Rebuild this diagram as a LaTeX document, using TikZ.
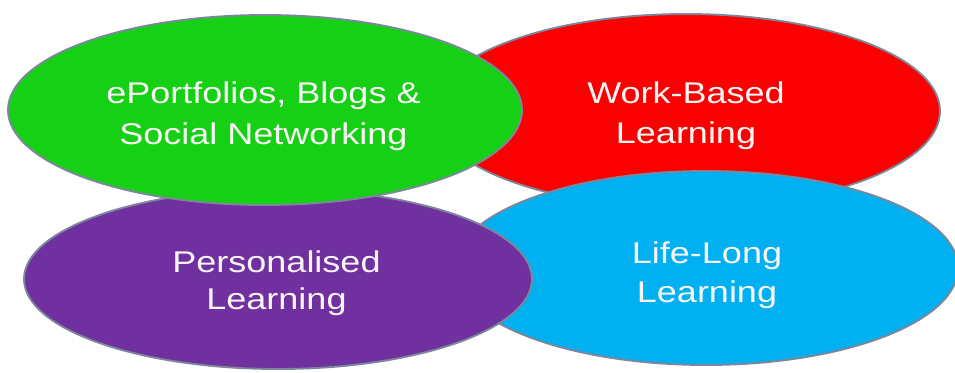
\documentclass[tikz,border=0pt]{standalone}
\usepackage{fontspec}
\setmainfont[FakeStretch=1.2]{Liberation Sans}
\usetikzlibrary{shapes.geometric}
\definecolor{cgreen}{RGB}{22,208,22}
\definecolor{cred}{RGB}{250,0,0}
\definecolor{cpurple}{RGB}{112,48,160}
\definecolor{cblue}{RGB}{0,176,240}
\definecolor{cborder}{RGB}{125,135,155}
\definecolor{ctext}{RGB}{250,245,245}
\tikzset{
  blob/.style={ellipse, draw=cborder, line width=1.4pt, inner sep=0pt, outer sep=0pt},
  lbl/.style={anchor=base, inner sep=0pt, text=ctext, font=\fontsize{22.5pt}{30pt}\selectfont}
}
\begin{document}
\begin{tikzpicture}[x=0.75pt, y=-0.75pt]
  \clip (0,0) rectangle (955,372);
  \fill[white] (0,0) rectangle (955,372);
  % ellipses (back to front)
  \node[blob, fill=cred, minimum width=381pt, minimum height=145.5pt] (work) at (686,111) {};
  \node[blob, fill=cblue, minimum width=378pt, minimum height=145.5pt] (life) at (706,268) {};
  \node[blob, fill=cpurple, minimum width=381pt, minimum height=135pt] (pers) at (278,279) {};
  \node[blob, fill=cgreen, minimum width=385.5pt, minimum height=142.5pt] (eport) at (265,110) {};
  % labels
  \node[lbl] (eportA) at (263.5,103) {ePortfolios, Blogs \&};
  \node[lbl] (eportB) at (263.5,144) {Social Networking};
  \node[lbl] (workA) at (686,103) {Work-Based};
  \node[lbl] (workB) at (686,143) {Learning};
  \node[lbl] (persA) at (276.5,272) {Personalised};
  \node[lbl] (persB) at (276.5,309) {Learning};
  \node[lbl] (lifeA) at (707,263) {Life-Long};
  \node[lbl] (lifeB) at (707,302) {Learning};
\end{tikzpicture}
\end{document}
